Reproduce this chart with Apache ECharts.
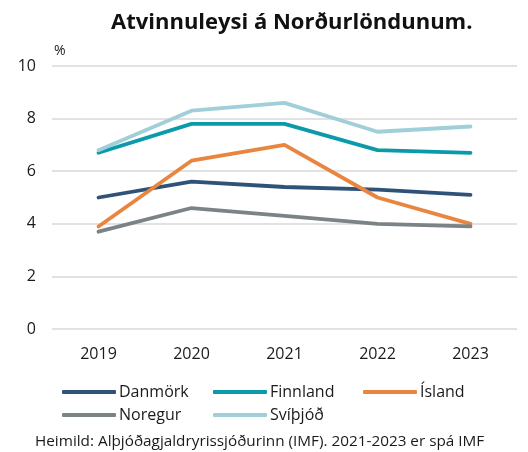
<!DOCTYPE html>
<html>
<head>
<meta charset="utf-8">
<script src="https://cdn.jsdelivr.net/npm/echarts@6/dist/echarts.min.js"></script>
<style>
  body { margin: 0; background: #fff; }
  #chart { width: 528px; height: 452px; }
</style>
</head>
<body>
<div id="chart"></div>
<script>
const years = ['2019', '2020', '2021', '2022', '2023'];
const countries = ['Danmörk', 'Finnland', 'Ísland', 'Noregur', 'Svíþjóð'];
const danmork = [5.0, 5.6, 5.4, 5.3, 5.1];
const finnland = [6.7, 7.8, 7.8, 6.8, 6.7];
const island = [3.9, 6.4, 7.0, 5.0, 4.0];
const noregur = [3.7, 4.6, 4.3, 4.0, 3.9];
const svithjod = [6.8, 8.3, 8.6, 7.5, 7.7];

const colors = ['#2f5278', '#0b9aaa', '#e8853e', '#7b8386', '#a0cfd9'];
const font = 'Open Sans';

function line(name, data, color) {
  return {
    name: name,
    type: 'line',
    data: data,
    symbol: 'none',
    lineStyle: { color: color, width: 3.8, cap: 'round' },
    itemStyle: { color: color }
  };
}

// one legend per entry so the columns line up like the original
const legendPos = [[62, 384], [213, 384], [363, 384], [62, 407], [213, 407]];
const legends = countries.map((c, i) => ({
  left: legendPos[i][0],
  top: legendPos[i][1],
  padding: 0,
  itemWidth: 54,
  itemHeight: 4,
  itemGap: 0,
  icon: 'roundRect',
  textStyle: { fontSize: 16, color: '#1a1a1a', padding: [0, 0, 0, -2] },
  data: [c]
}));

const chart = echarts.init(document.getElementById('chart'));
chart.setOption({
  animation: false,
  textStyle: { fontFamily: font },
  title: {
    text: 'Atvinnuleysi á Norðurlöndunum.',
    left: 106,
    top: 7,
    textStyle: { fontSize: 22, fontWeight: 'bold', color: '#111', fontFamily: font }
  },
  legend: legends,
  grid: { left: 52, right: 11, top: 66, bottom: 123 },
  xAxis: {
    type: 'category',
    data: years,
    axisLine: { show: false },
    axisTick: { show: false },
    axisLabel: { fontSize: 16, color: '#1a1a1a', margin: 17 }
  },
  yAxis: {
    type: 'value',
    min: 0,
    max: 10,
    interval: 2,
    name: '%',
    nameGap: 8,
    nameTextStyle: { fontSize: 14, color: '#1a1a1a', align: 'left', padding: [0, 0, 0, 2] },
    axisLine: { show: false },
    axisTick: { show: false },
    axisLabel: { fontSize: 16, color: '#1a1a1a', margin: 16 },
    splitLine: { lineStyle: { color: '#d9d9d9', width: 1.5 } }
  },
  series: [
    line(countries[0], danmork, colors[0]),
    line(countries[1], finnland, colors[1]),
    line(countries[2], island, colors[2]),
    line(countries[3], noregur, colors[3]),
    line(countries[4], svithjod, colors[4])
  ],
  graphic: [{
    type: 'text',
    left: 35,
    top: 434,
    style: {
      text: 'Heimild: Alþjóðagjaldryrissjóðurinn (IMF). 2021-2023 er spá IMF',
      fontSize: 15.3,
      fontFamily: font,
      fill: '#1a1a1a'
    }
  }]
});
</script>
</body>
</html>
